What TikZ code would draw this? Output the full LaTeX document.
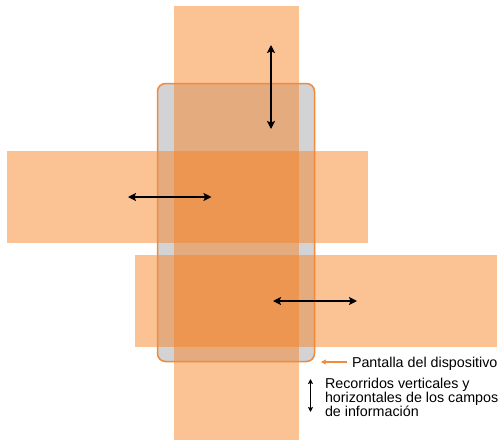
\documentclass[tikz,border=0pt]{standalone}
\usepackage{fontspec}
\setmainfont{Liberation Sans}
\usetikzlibrary{arrows.meta}
\definecolor{barorange}{RGB}{246,128,32}
\definecolor{framegray}{RGB}{211,211,214}
\definecolor{frameorange}{RGB}{242,138,58}
\tikzset{
  bar/.style={fill=barorange, fill opacity=0.48, draw=none, inner sep=0pt, outer sep=0pt},
  devfill/.style={fill=framegray, draw=none, rounded corners=8pt, inner sep=0pt, outer sep=0pt,
    minimum width=157pt, minimum height=278pt},
  devline/.style={draw=frameorange, line width=1.5pt, fill=none, rounded corners=8pt, inner sep=0pt, outer sep=0pt,
    minimum width=157pt, minimum height=278pt},
  movearrow/.style={black, line width=1.3pt, {Stealth[length=8pt,width=8pt,inset=1.5pt]}-{Stealth[length=8pt,width=8pt,inset=1.5pt]}},
  legarrow/.style={black, line width=1.1pt, {Stealth[length=5pt,width=5pt,inset=1pt]}-{Stealth[length=5pt,width=5pt,inset=1pt]}},
  pointer/.style={frameorange, line width=1.1pt, -{Stealth[length=5pt,width=5pt,inset=1pt]}},
  label/.style={inner sep=0pt, outer sep=0pt, font=\fontsize{14.3}{13.4}\selectfont, text=black}
}
\begin{document}
\begin{tikzpicture}[x=1pt,y=-1pt]
\useasboundingbox (0,0) rectangle (499,440);
% device background
\node[devfill] (dev) at (236,222.5) {};
% scrolling fields
\node[bar, minimum width=125pt, minimum height=434pt] (vbar) at (236.5,223) {};
\node[bar, minimum width=360.5pt, minimum height=92pt] (hbarA) at (187.25,197) {};
\node[bar, minimum width=362pt, minimum height=92pt] (hbarB) at (316,301) {};
% device frame on top
\node[devline] (devframe) at (dev.center) {};
% movement arrows
\coordinate (vA) at (271,45);
\coordinate (vB) at (271,129);
\draw[movearrow] (vA) -- (vB);
\coordinate (hA1) at (128,197);
\coordinate (hA2) at (211.5,197);
\draw[movearrow] (hA1) -- (hA2);
\coordinate (hB1) at (273,301);
\coordinate (hB2) at (357,301);
\draw[movearrow] (hB1) -- (hB2);
% legend
\node[label, anchor=base west] (pantalla) at (352,367.3) {Pantalla del dispositivo};
\coordinate (ptrTail) at (347,362);
\coordinate (ptrTip) at (321,362);
\draw[pointer] (ptrTail) -- (ptrTip);
\node[label, anchor=base west, align=left] (recorridos) at (325,416.7) {Recorridos verticales y\\horizontales de los campos\\de información};
\coordinate (lgA) at (310.5,379);
\coordinate (lgB) at (310.5,412);
\draw[legarrow] (lgA) -- (lgB);
\end{tikzpicture}
\end{document}
